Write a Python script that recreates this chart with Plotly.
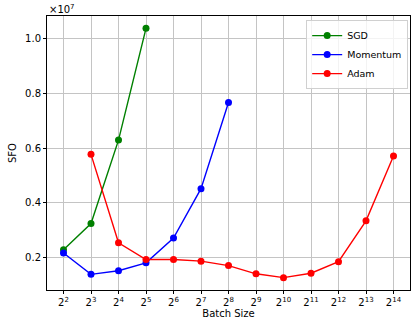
import plotly.graph_objects as go

# SFO values in units of 1e7
sgd_exp = [2, 3, 4, 5]
sgd_sfo = [0.230, 0.325, 0.629, 1.036]
mom_exp = [2, 3, 4, 5, 6, 7, 8]
mom_sfo = [0.218, 0.140, 0.153, 0.182, 0.272, 0.452, 0.766]
adam_exp = [3, 4, 5, 6, 7, 8, 9, 10, 11, 12, 13, 14]
adam_sfo = [0.577, 0.255, 0.194, 0.194, 0.188, 0.172, 0.142, 0.128, 0.144, 0.186, 0.335, 0.571]
x_exps = list(range(2, 15))
y_ticks = [0.2, 0.4, 0.6, 0.8, 1.0]

font = dict(family="DejaVu Sans", size=10, color="black")

fig = go.Figure()
for name, ex, vals, col in [("SGD", sgd_exp, sgd_sfo, "green"),
                            ("Momentum", mom_exp, mom_sfo, "blue"),
                            ("Adam", adam_exp, adam_sfo, "red")]:
    fig.add_trace(go.Scatter(x=[2 ** e for e in ex], y=vals, name=name,
                             mode="lines+markers",
                             line=dict(color=col, width=1.4),
                             marker=dict(color=col, size=7)))

axis_common = dict(showline=True, linecolor="black", linewidth=1, mirror=True,
                   ticks="outside", ticklen=3, tickcolor="black",
                   showgrid=True, gridcolor="#c4c4c4", gridwidth=1,
                   zeroline=False, tickfont=font, automargin=False)

fig.update_xaxes(type="log", range=[1.4 * 0.30103, 14.6 * 0.30103],
                 tickvals=[2 ** e for e in x_exps],
                 ticktext=[f"2<sup>{e}</sup>" for e in x_exps],
                 title=dict(text="Batch Size", font=font, standoff=2),
                 **axis_common)
fig.update_yaxes(range=[0.083, 1.081], tickvals=y_ticks,
                 ticktext=[f"{v:.1f}" for v in y_ticks],
                 title=dict(text="SFO", font=font, standoff=6),
                 **axis_common)

fig.add_annotation(text="×10<sup>7</sup>", xref="paper", yref="paper",
                   x=0, y=1, xanchor="left", yanchor="bottom",
                   showarrow=False, font=font, yshift=-1)

fig.update_layout(width=412, height=322,
                  margin=dict(l=47, r=2, t=16, b=32),
                  plot_bgcolor="white", paper_bgcolor="white",
                  font=font,
                  legend=dict(x=0.995, y=0.985, xanchor="right", yanchor="top",
                              bgcolor="rgba(255,255,255,0.8)",
                              bordercolor="#d0d0d0", borderwidth=1,
                              font=dict(family="DejaVu Sans", size=9.5),
                              tracegroupgap=0, itemwidth=30))

fig.write_html("out.html", config={"displayModeBar": False},
               post_script="document.body.style.margin='0';document.body.style.padding='0';")
